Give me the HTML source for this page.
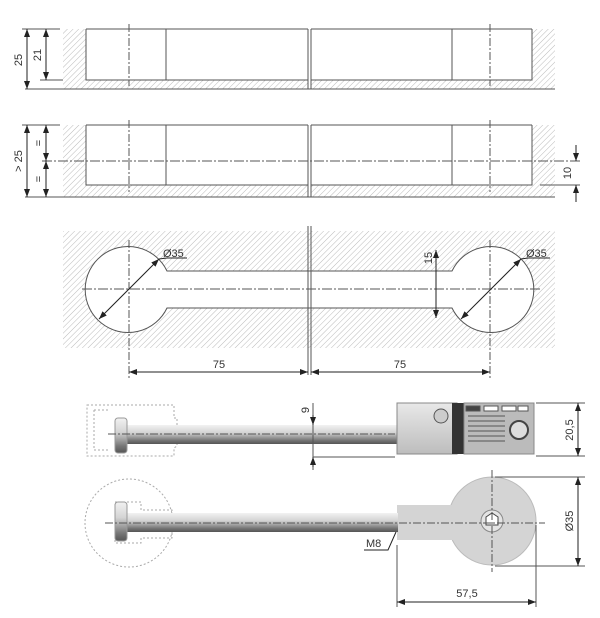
<!DOCTYPE html>
<html><head><meta charset="utf-8"><style>
html,body{margin:0;padding:0;background:#fff;}
svg{display:block;}
text{font-family:"Liberation Sans",sans-serif;font-size:11px;fill:#333;}
</style></head><body>
<svg width="600" height="618" viewBox="0 0 600 618" xmlns="http://www.w3.org/2000/svg">
<defs>
<pattern id="h" width="4" height="4" patternUnits="userSpaceOnUse" patternTransform="rotate(45)">
<line x1="0" y1="0" x2="0" y2="4" stroke="#bbb" stroke-width="1"/>
</pattern>
<marker id="a" markerWidth="8" markerHeight="6" refX="8" refY="3" orient="auto-start-reverse" markerUnits="userSpaceOnUse">
<path d="M0,0 L8,3 L0,6 z" fill="#222"/>
</marker>
<linearGradient id="rod" x1="0" y1="0" x2="0" y2="1">
<stop offset="0" stop-color="#f2f2f2"/><stop offset="0.4" stop-color="#d4d4d4"/><stop offset="0.8" stop-color="#777"/><stop offset="1" stop-color="#555"/>
</linearGradient>
<linearGradient id="blk" x1="0" y1="0" x2="0" y2="1">
<stop offset="0" stop-color="#e8e8e8"/><stop offset="1" stop-color="#bdbdbd"/>
</linearGradient>
</defs>
<g stroke="#555" stroke-width="1" fill="none">
<!-- VIEW 1 -->
<rect x="63" y="29" width="23" height="51" fill="url(#h)" stroke="none"/>
<rect x="532" y="29" width="23" height="51" fill="url(#h)" stroke="none"/>
<rect x="63" y="80" width="245" height="9" fill="url(#h)" stroke="none"/>
<rect x="311" y="80" width="244" height="9" fill="url(#h)" stroke="none"/>
<polyline points="86,29 86,80 308,80"/>
<polyline points="311,80 532,80 532,29"/>
<line x1="86" y1="29" x2="308" y2="29"/><line x1="311" y1="29" x2="532" y2="29"/>
<line x1="166" y1="29" x2="166" y2="80"/><line x1="452" y1="29" x2="452" y2="80"/>
<line x1="308" y1="29" x2="308" y2="89"/><line x1="311" y1="29" x2="311" y2="89"/>
<line x1="25" y1="89" x2="555" y2="89"/>
<line x1="40" y1="80" x2="63" y2="80"/>
<line x1="22" y1="29" x2="60" y2="29"/>
<line x1="129" y1="24" x2="129" y2="86" stroke-dasharray="8,2,2,2"/>
<line x1="490" y1="24" x2="490" y2="86" stroke-dasharray="8,2,2,2"/>
<line x1="27" y1="29" x2="27" y2="89" stroke="#222" marker-start="url(#a)" marker-end="url(#a)"/>
<line x1="46" y1="29" x2="46" y2="80" stroke="#222" marker-start="url(#a)" marker-end="url(#a)"/>
<!-- VIEW 2 -->
<rect x="63" y="125" width="23" height="60" fill="url(#h)" stroke="none"/>
<rect x="532" y="125" width="23" height="60" fill="url(#h)" stroke="none"/>
<rect x="63" y="185" width="245" height="12" fill="url(#h)" stroke="none"/>
<rect x="311" y="185" width="244" height="12" fill="url(#h)" stroke="none"/>
<polyline points="86,125 86,185 308,185"/>
<polyline points="311,185 532,185 532,125"/>
<line x1="86" y1="125" x2="308" y2="125"/><line x1="311" y1="125" x2="532" y2="125"/>
<line x1="166" y1="125" x2="166" y2="185"/><line x1="452" y1="125" x2="452" y2="185"/>
<line x1="308" y1="125" x2="308" y2="197"/><line x1="311" y1="125" x2="311" y2="197"/>
<line x1="25" y1="197" x2="555" y2="197"/>
<line x1="22" y1="125" x2="60" y2="125"/>
<line x1="129" y1="120" x2="129" y2="192" stroke-dasharray="8,2,2,2"/>
<line x1="490" y1="120" x2="490" y2="192" stroke-dasharray="8,2,2,2"/>
<line x1="42" y1="161" x2="580" y2="161" stroke-dasharray="10,2,2,2"/>
<line x1="540" y1="185" x2="580" y2="185"/>
<line x1="27" y1="125" x2="27" y2="197" stroke="#222" marker-start="url(#a)" marker-end="url(#a)"/>
<line x1="46" y1="125" x2="46" y2="161" stroke="#222" marker-start="url(#a)" marker-end="url(#a)"/>
<line x1="46" y1="161" x2="46" y2="197" stroke="#222" marker-start="url(#a)" marker-end="url(#a)"/>
<line x1="576" y1="145" x2="576" y2="161" stroke="#222" marker-end="url(#a)"/>
<line x1="576" y1="202" x2="576" y2="185" stroke="#222" marker-end="url(#a)"/>
<!-- VIEW 3 -->
<path fill-rule="evenodd" fill="url(#h)" stroke="none" d="M63,231 H555 V348 H63 Z M167,271 A43,43 0 1 0 167,308 H452 A43,43 0 1 0 452,271 Z"/>
<path d="M167,271 A43,43 0 1 0 167,308 H452 A43,43 0 1 0 452,271 Z"/>
<line x1="308" y1="226" x2="308" y2="375"/><line x1="311" y1="226" x2="311" y2="375"/>
<line x1="82" y1="289" x2="540" y2="289" stroke-dasharray="10,2,2,2"/>
<line x1="129" y1="240" x2="129" y2="380" stroke-dasharray="8,2,2,2"/>
<line x1="490" y1="240" x2="490" y2="380" stroke-dasharray="8,2,2,2"/>
<line x1="99" y1="319" x2="159" y2="259" stroke="#222" marker-start="url(#a)" marker-end="url(#a)"/>
<polyline points="159,259 167,258 187,258" stroke="#222"/>
<line x1="461" y1="319" x2="521" y2="259" stroke="#222" marker-start="url(#a)" marker-end="url(#a)"/>
<polyline points="521,259 528,258 550,258" stroke="#222"/>
<line x1="436" y1="250" x2="436" y2="318" stroke="#222" marker-start="url(#a)" marker-end="url(#a)"/>
<line x1="129" y1="372" x2="308" y2="372" stroke="#222" marker-start="url(#a)" marker-end="url(#a)"/>
<line x1="311" y1="372" x2="490" y2="372" stroke="#222" marker-start="url(#a)" marker-end="url(#a)"/>
<!-- PRODUCT side -->
<path d="M87,405 H174 V418 H177 V446 L174,448 V456 H87 Z" stroke="#aaa" stroke-dasharray="2,2"/>
<path d="M94,410 H110 M94,410 V450 H110" stroke="#aaa" stroke-dasharray="2,2"/>
<rect x="126" y="425" width="272" height="19" fill="url(#rod)" stroke="none"/>
<rect x="115" y="418" width="12" height="35" rx="3" fill="url(#rod)" stroke="#999"/>
<rect x="397" y="403" width="60" height="51" fill="url(#blk)" stroke="#888"/>
<rect x="452" y="403" width="12" height="51" fill="#333" stroke="none"/>
<rect x="464" y="403" width="70" height="51" fill="#bbb" stroke="#888"/>
<g stroke="#555">
<rect x="466" y="406" width="14" height="5" fill="#444"/><rect x="484" y="406" width="14" height="5" fill="#fff"/><rect x="502" y="406" width="14" height="5" fill="#fff"/><rect x="518" y="406" width="10" height="5" fill="#fff"/>
<line x1="468" y1="416" x2="505" y2="416"/><line x1="468" y1="421" x2="505" y2="421"/><line x1="468" y1="426" x2="505" y2="426"/><line x1="468" y1="431" x2="505" y2="431"/><line x1="468" y1="436" x2="505" y2="436"/><line x1="468" y1="441" x2="505" y2="441"/>
</g>
<circle cx="441" cy="416" r="7" fill="#ccc" stroke="#555"/>
<circle cx="519" cy="430" r="9" fill="#ddd" stroke="#444" stroke-width="2"/>
<line x1="108" y1="434" x2="395" y2="434" stroke-dasharray="8,2,2,2"/>
<line x1="313" y1="403" x2="313" y2="470"/>
<line x1="313" y1="415" x2="313" y2="425" stroke="#222" marker-end="url(#a)"/>
<line x1="313" y1="467" x2="313" y2="457" stroke="#222" marker-end="url(#a)"/>
<line x1="313" y1="457" x2="395" y2="457"/>
<line x1="536" y1="403" x2="585" y2="403"/><line x1="536" y1="456" x2="585" y2="456"/>
<line x1="578" y1="403" x2="578" y2="456" stroke="#222" marker-start="url(#a)" marker-end="url(#a)"/>
<!-- PRODUCT top -->
<circle cx="129" cy="523" r="44" stroke="#aaa" stroke-dasharray="2,2"/>
<path d="M115,502 H141 V510 H172 V538 H141 V543 H115 Z" stroke="#aaa" stroke-dasharray="2,2"/>
<circle cx="492" cy="521" r="44" fill="#d4d4d4" stroke="#bbb"/>
<rect x="397" y="505" width="70" height="35" fill="#d4d4d4" stroke="none"/>
<rect x="126" y="513" width="272" height="19" fill="url(#rod)" stroke="none"/>
<rect x="115" y="502" width="12" height="39" rx="3" fill="url(#rod)" stroke="#999"/>
<circle cx="492" cy="521" r="11" fill="#e4e4e4" stroke="#888"/>
<path d="M486,517 L492,513 L498,517 V525 H486 Z" fill="#fff" stroke="#444"/>
<line x1="105" y1="523" x2="545" y2="523" stroke-dasharray="8,2,2,2"/>
<line x1="492" y1="470" x2="492" y2="572" stroke-dasharray="8,2,2,2"/>
<line x1="495" y1="477" x2="585" y2="477"/><line x1="495" y1="566" x2="585" y2="566"/>
<line x1="578" y1="477" x2="578" y2="566" stroke="#222" marker-start="url(#a)" marker-end="url(#a)"/>
<polyline points="364,550 388,550 396,532" stroke="#222"/>
<line x1="397" y1="545" x2="397" y2="607"/><line x1="536" y1="525" x2="536" y2="607"/>
<line x1="397" y1="602" x2="536" y2="602" stroke="#222" marker-start="url(#a)" marker-end="url(#a)"/>
</g>
<g>
<text x="0" y="0" transform="translate(22,60) rotate(-90)" text-anchor="middle">25</text>
<text x="0" y="0" transform="translate(41,55) rotate(-90)" text-anchor="middle">21</text>
<text x="0" y="0" transform="translate(22,161) rotate(-90)" text-anchor="middle">&gt; 25</text>
<text x="0" y="0" transform="translate(42,143) rotate(-90)" text-anchor="middle">=</text>
<text x="0" y="0" transform="translate(42,179) rotate(-90)" text-anchor="middle">=</text>
<text x="0" y="0" transform="translate(571,173) rotate(-90)" text-anchor="middle">10</text>
<text x="163" y="257">Ø35</text>
<text x="526" y="257">Ø35</text>
<text x="0" y="0" transform="translate(432,258) rotate(-90)" text-anchor="middle">15</text>
<text x="219" y="368" text-anchor="middle">75</text>
<text x="400" y="368" text-anchor="middle">75</text>
<text x="0" y="0" transform="translate(309,410) rotate(-90)" text-anchor="middle">9</text>
<text x="0" y="0" transform="translate(573,430) rotate(-90)" text-anchor="middle">20,5</text>
<text x="0" y="0" transform="translate(573,521) rotate(-90)" text-anchor="middle">Ø35</text>
<text x="366" y="547">M8</text>
<text x="467" y="597" text-anchor="middle">57,5</text>
</g>
</svg>
</body></html>
